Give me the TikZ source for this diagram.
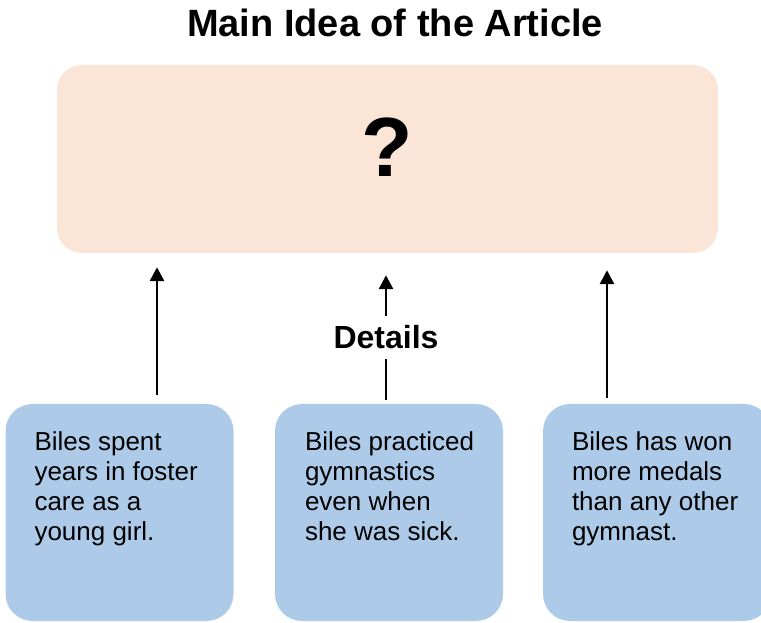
\documentclass[tikz,border=0pt]{standalone}
\usepackage{fontspec}
\setmainfont{Liberation Sans}
\usetikzlibrary{positioning,arrows.meta}
\definecolor{peach}{HTML}{FBE5D6}
\definecolor{skyblue}{HTML}{ADCBE9}
\tikzset{
	>={Triangle[width=14pt,length=14pt]}, % filled arrow heads
	arr/.style={->, line width=2.9pt},
	detailbox/.style={rectangle, fill=skyblue, rounded corners=27pt, minimum width=228pt, minimum height=217pt, inner sep=0pt},
	detailtext/.style={align=left, inner sep=0pt, font=\fontsize{26}{30}\selectfont},
}
\begin{document}
\begin{tikzpicture}[x=1pt,y=1pt,
	mainbox/.style={rectangle, fill=peach, rounded corners=25pt, minimum width=661pt, minimum height=188pt, inner sep=0pt},
	]
	\useasboundingbox (0,0) rectangle (761,622);
	%Nodes
	\node[anchor=base, font=\fontsize{38}{44}\selectfont\bfseries] (title) at (395,585) {Main Idea of the Article};
	\node[mainbox] (main) at (387.5,463) {};
	\node[font=\fontsize{84}{90}\selectfont\bfseries] (qmark) at (387.5,474.5) {?};

	\node[detailbox] (foster) at (119.5,109.5) {};
	\node[detailbox] (sick) at (389,109.5) {};
	\node[detailbox] (medals) at (657,109.5) {};

	\node[detailtext, below right=27.5pt and 29pt of foster.north west] (fostertext) {Biles spent\\years in foster\\care as a\\young girl.};
	\node[detailtext, below right=27.5pt and 30pt of sick.north west] (sicktext) {Biles practiced\\gymnastics\\even when\\she was sick.};
	\node[detailtext, below right=27.5pt and 29pt of medals.north west] (medalstext) {Biles has won\\more medals\\than any other\\gymnast.};

	%Lines
	\draw[arr, shorten <=9pt, shorten >=14pt] ([xshift=37.5pt]foster.north) -- ([xshift=37.5pt]foster.north |- main.south);
	\draw[arr, shorten <=4pt, shorten >=22pt] ([xshift=-3pt]sick.north) -- node[pos=0.44, fill=white, inner xsep=2pt, inner ysep=10pt, font=\fontsize{32}{36}\selectfont\bfseries] (details) {Details} ([xshift=-3pt]sick.north |- main.south);
	\draw[arr, shorten <=6pt, shorten >=17pt] ([xshift=-50pt]medals.north) -- ([xshift=-50pt]medals.north |- main.south);
\end{tikzpicture}
\end{document}
